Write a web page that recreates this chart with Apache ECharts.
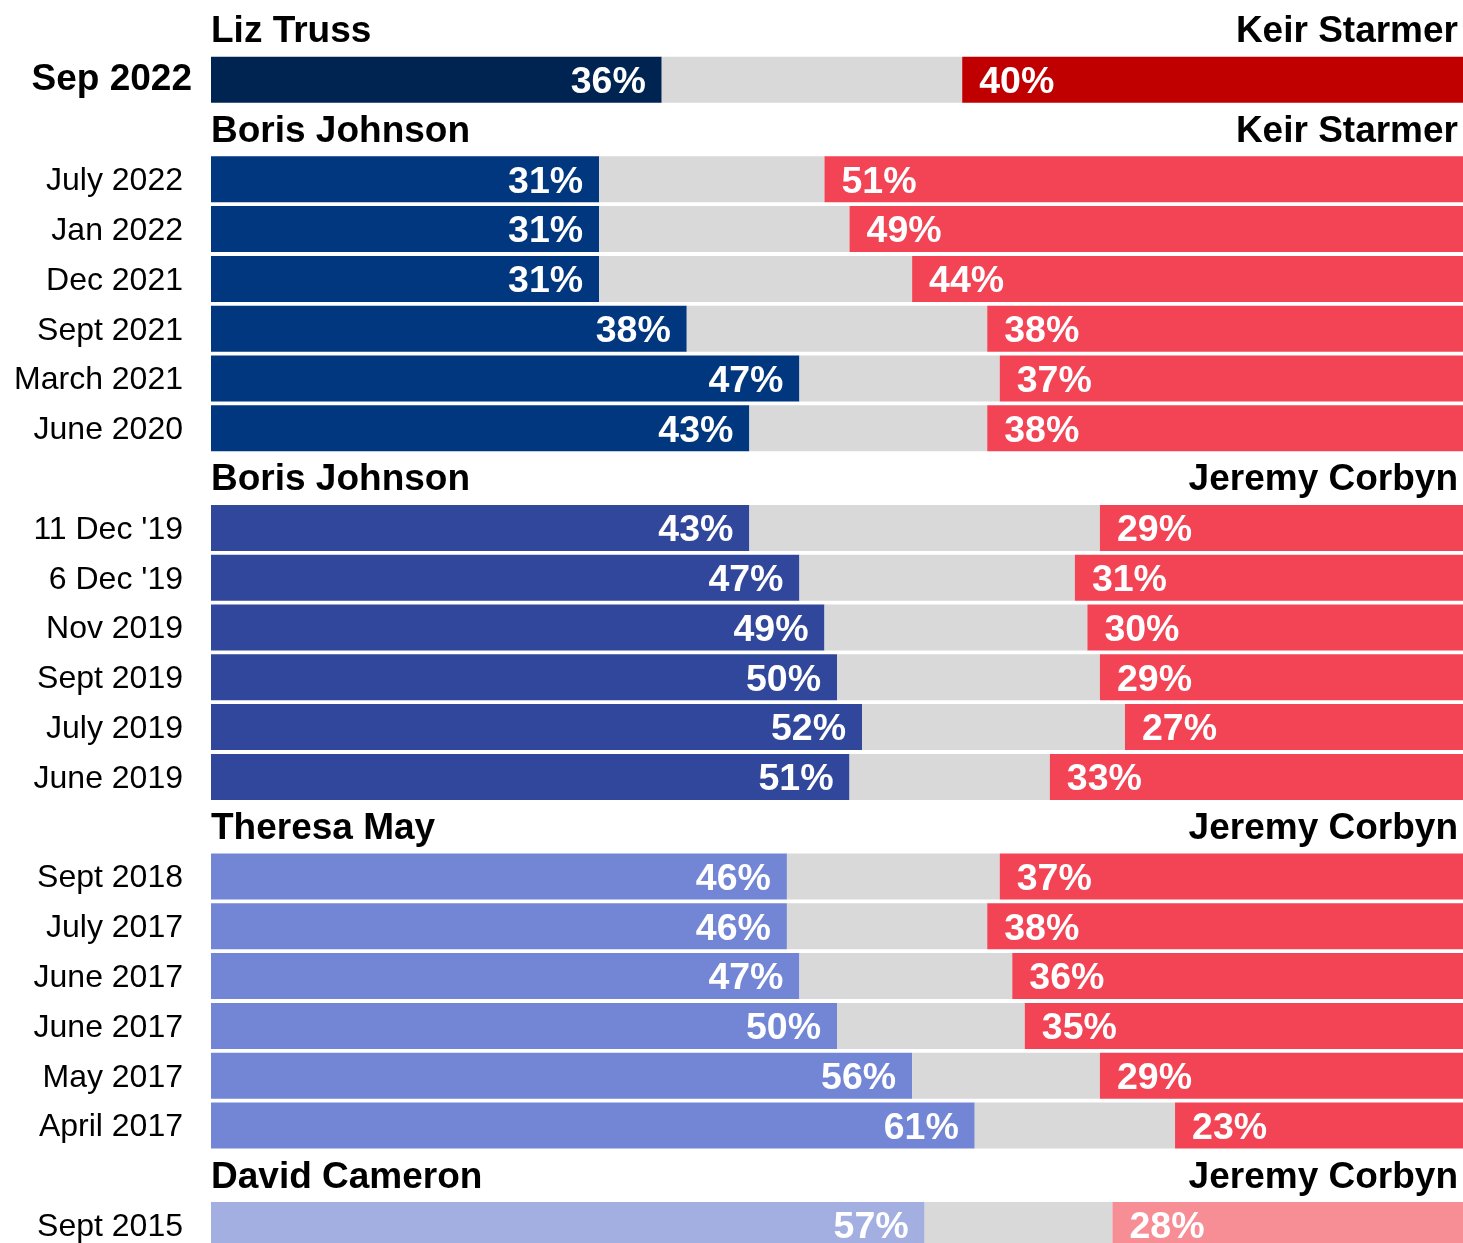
<!DOCTYPE html>
<html>
<head>
<meta charset="utf-8">
<script src="https://cdn.jsdelivr.net/npm/echarts@6/dist/echarts.min.js"></script>
<style>
    html, body { margin: 0; padding: 0; background: #fff; }
    #chart { width: 1463px; height: 1243px; }
</style>
</head>
<body>
<div id="chart"></div>
<script>
    // rows top to bottom; '' marks a leader header row
    const dates = ['', 'Sep 2022', '', 'July 2022', 'Jan 2022', 'Dec 2021', 'Sept 2021', 'March 2021', 'June 2020',
        '', "11 Dec '19", "6 Dec '19", 'Nov 2019', 'Sept 2019', 'July 2019', 'June 2019',
        '', 'Sept 2018', 'July 2017', 'June 2017', 'June 2017', 'May 2017', 'April 2017',
        '', 'Sept 2015'];
    const conShare = [null, 36, null, 31, 31, 31, 38, 47, 43,
        null, 43, 47, 49, 50, 52, 51,
        null, 46, 46, 47, 50, 56, 61,
        null, 57];
    const labShare = [null, 40, null, 51, 49, 44, 38, 37, 38,
        null, 29, 31, 30, 29, 27, 33,
        null, 37, 38, 36, 35, 29, 23,
        null, 28];
    const conLeaders = ['Liz Truss', 'Boris Johnson', 'Boris Johnson', 'Theresa May', 'David Cameron'];
    const labLeaders = ['Keir Starmer', 'Keir Starmer', 'Jeremy Corbyn', 'Jeremy Corbyn', 'Jeremy Corbyn'];
    const conColors = ['#002452', '#00377e', '#31479b', '#7286d5', '#a3afe1'];
    const labColors = ['#c00000', '#f24455', '#f24455', '#f24455', '#f78e96'];

    const FONT = '"Liberation Sans", Arial, sans-serif';

    // which leader group each row belongs to
    const groupOf = [];
    let g = -1;
    dates.forEach((d) => {
        if (d === '') g++;
        groupOf.push(g);
    });

    const conData = dates.map((d, i) => {
        if (d === '') {
            return {
                value: 50,
                itemStyle: { color: 'rgba(0,0,0,0)' },
                label: {
                    position: 'insideLeft', distance: 0, color: '#000', fontSize: 37,
                    offset: [0, 2],
                    formatter: conLeaders[groupOf[i]]
                }
            };
        }
        return { value: conShare[i], itemStyle: { color: conColors[groupOf[i]] } };
    });

    const dkData = dates.map((d, i) => d === '' ? '-' : 100 - conShare[i] - labShare[i]);

    const labData = dates.map((d, i) => {
        if (d === '') {
            return {
                value: 50,
                itemStyle: { color: 'rgba(0,0,0,0)' },
                label: {
                    position: 'insideRight', distance: 5, color: '#000', fontSize: 37,
                    offset: [0, 2],
                    formatter: labLeaders[groupOf[i]]
                }
            };
        }
        return { value: labShare[i], itemStyle: { color: labColors[groupOf[i]] } };
    });

    const valueLabel = {
        show: true,
        color: '#fff',
        fontFamily: FONT,
        fontWeight: 'bold',
        fontSize: 37.5,
        offset: [0, 3],
        formatter: '{c}%'
    };

    const myChart = echarts.init(document.getElementById('chart'), null, { renderer: 'canvas' });

    myChart.setOption({
        animation: false,
        backgroundColor: '#fff',
        grid: { left: 211, width: 1252, top: 5, height: 1245, outerBoundsMode: 'none' },
        xAxis: {
            type: 'value',
            min: 0,
            max: 100,
            show: false
        },
        yAxis: {
            type: 'category',
            inverse: true,
            data: dates,
            axisLine: { show: false },
            axisTick: { show: false },
            splitLine: { show: false },
            axisLabel: {
                margin: 19,
                color: '#000',
                fontFamily: FONT,
                formatter: (v, i) => {
                    if (v === '') return '';
                    return i === 1 ? '{b|' + v + '}' : '{d|' + v + '}';
                },
                rich: {
                    b: { fontFamily: FONT, fontSize: 37, fontWeight: 'bold', color: '#000' },
                    d: { fontFamily: FONT, fontSize: 32, color: '#000', padding: [4, 9, 0, 0] }
                }
            }
        },
        series: [
            {
                name: 'Con',
                type: 'bar',
                stack: 'total',
                barWidth: 46,
                label: Object.assign({}, valueLabel, { position: 'insideRight', distance: 16 }),
                data: conData
            },
            {
                name: "Don't know",
                type: 'bar',
                stack: 'total',
                barWidth: 46,
                itemStyle: { color: '#d9d9d9' },
                data: dkData
            },
            {
                name: 'Lab',
                type: 'bar',
                stack: 'total',
                barWidth: 46,
                label: Object.assign({}, valueLabel, { position: 'insideLeft', distance: 17 }),
                data: labData
            }
        ]
    });
</script>
</body>
</html>
